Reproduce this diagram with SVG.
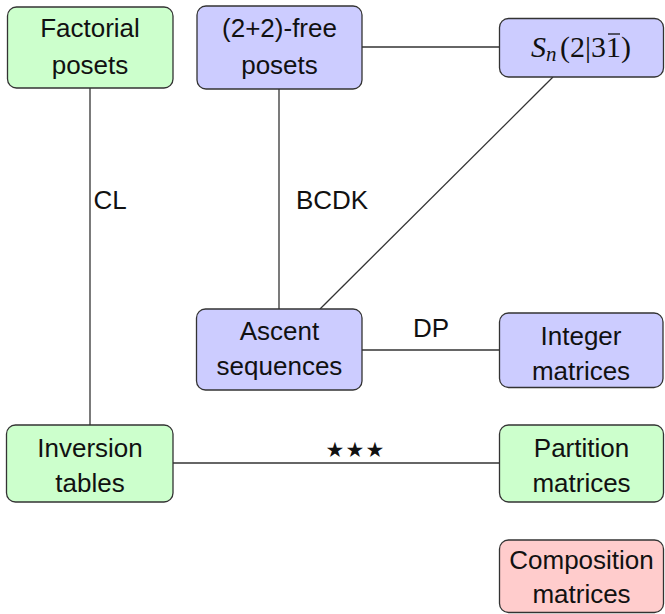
<svg xmlns="http://www.w3.org/2000/svg" width="665" height="614" viewBox="0 0 665 614">
<style>
.box{stroke:#333;stroke-width:1.3}
.g{fill:#ccffcc}.b{fill:#ccccff}.r{fill:#ffcccc}
.t{font-family:"Liberation Sans",Arial,sans-serif;font-size:26px;fill:#111;text-anchor:middle}
.e{stroke:#333;stroke-width:1.3;fill:none}
.m{font-family:"Liberation Serif","Times New Roman",serif;font-size:30px;fill:#111}
.s{font-family:"DejaVu Sans",sans-serif;font-size:21px;fill:#111;text-anchor:middle}
</style>
<rect width="665" height="614" fill="#fff"/>
<g id="edges">
<line class="e" x1="90" y1="88" x2="90" y2="425"/>
<line class="e" x1="279" y1="89" x2="279" y2="309"/>
<line class="e" x1="362" y1="47" x2="499" y2="47"/>
<line class="e" x1="553" y1="77" x2="320" y2="309"/>
<line class="e" x1="362" y1="350" x2="499" y2="350"/>
<line class="e" x1="173" y1="463" x2="499" y2="463"/>
<text class="t" x="110" y="209">CL</text>
<text class="t" x="332" y="209">BCDK</text>
<text class="t" x="431" y="337">DP</text>
<text class="s" x="335" y="457">★</text>
<text class="s" x="355" y="457">★</text>
<text class="s" x="375" y="457">★</text>
</g>
<g id="factorial">
<rect class="box g" x="7.5" y="7" width="165.5" height="81" rx="9"/>
<text class="t" x="90" y="37">Factorial</text>
<text class="t" x="90" y="74">posets</text>
</g>
<g id="free22">
<rect class="box b" x="197" y="6" width="165" height="83" rx="9"/>
<text class="t" x="279.5" y="37">(2+2)-free</text>
<text class="t" x="279.5" y="74">posets</text>
</g>
<g id="sn">
<rect class="box b" x="499.5" y="18.5" width="164" height="58.5" rx="9"/>
<text class="m" y="57"><tspan x="531" font-style="italic">S</tspan><tspan x="546" y="61" font-style="italic" font-size="21px">n</tspan><tspan x="560" y="57">(2|3</tspan><tspan x="606">1</tspan><tspan x="621">)</tspan></text>
<line x1="608" y1="34" x2="620" y2="34" stroke="#111" stroke-width="1.3"/>
</g>
<g id="ascent">
<rect class="box b" x="196.5" y="309" width="165.5" height="81" rx="9"/>
<text class="t" x="279.5" y="340">Ascent</text>
<text class="t" x="279.5" y="375">sequences</text>
</g>
<g id="integer">
<rect class="box b" x="499.5" y="313" width="163.5" height="74.5" rx="9"/>
<text class="t" x="581" y="345">Integer</text>
<text class="t" x="581" y="380">matrices</text>
</g>
<g id="inversion">
<rect class="box g" x="6.5" y="425" width="166.5" height="77" rx="9"/>
<text class="t" x="90" y="457">Inversion</text>
<text class="t" x="90" y="492">tables</text>
</g>
<g id="partition">
<rect class="box g" x="499.5" y="425" width="164" height="77" rx="9"/>
<text class="t" x="581.5" y="457">Partition</text>
<text class="t" x="581.5" y="492">matrices</text>
</g>
<g id="composition">
<rect class="box r" x="499.5" y="540" width="164" height="72.5" rx="9"/>
<text class="t" x="581.5" y="569">Composition</text>
<text class="t" x="581.5" y="603">matrices</text>
</g>
</svg>
